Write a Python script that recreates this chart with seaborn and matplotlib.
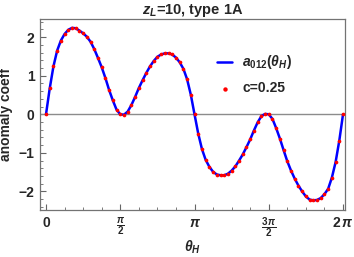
import numpy as np
import pandas as pd
import seaborn as sns
import matplotlib.pyplot as plt
from matplotlib.ticker import MultipleLocator

# sample points theta = k*pi/40, k = 0..80
k_index = list(range(81))
coeff = [
    0.00, 0.67, 1.24, 1.65, 1.91, 2.08, 2.19, 2.24, 2.23, 2.17,
    2.10, 2.01, 1.88, 1.69, 1.46, 1.22, 0.94, 0.63, 0.36, 0.12,
    0.00, -0.01, 0.07, 0.24, 0.45, 0.68, 0.88, 1.07, 1.24, 1.38,
    1.49, 1.55, 1.58, 1.58, 1.55, 1.47, 1.35, 1.18, 0.91, 0.51,
    0.00, -0.50, -0.90, -1.18, -1.36, -1.49, -1.56, -1.58, -1.58, -1.54,
    -1.46, -1.35, -1.20, -1.04, -0.85, -0.65, -0.42, -0.21, -0.05, 0.01,
    0.00, -0.12, -0.36, -0.63, -0.93, -1.22, -1.46, -1.67, -1.85, -2.00,
    -2.13, -2.21, -2.23, -2.22, -2.17, -2.07, -1.93, -1.64, -1.24, -0.68,
    0.00,
]
xtick_pos = [0, np.pi / 2, np.pi, 3 * np.pi / 2, 2 * np.pi]
xtick_labels = ['0', r'$\frac{\pi}{2}$', r'$\pi$', r'$\frac{3\,\pi}{2}$', r'$2\,\pi$']

df = pd.DataFrame({'theta': np.array(k_index) * np.pi / 40, 'a': coeff})

sns.set_style('ticks')
plt.rcParams['font.family'] = ['Liberation Sans', 'DejaVu Sans']
plt.rcParams['font.weight'] = 'bold'
plt.rcParams['mathtext.fontset'] = 'custom'
plt.rcParams['mathtext.rm'] = 'Liberation Sans:bold'
plt.rcParams['mathtext.it'] = 'Liberation Sans:bold:italic'
plt.rcParams['mathtext.bf'] = 'Liberation Sans:bold'

fig = plt.figure(figsize=(3.54, 2.57), dpi=100)
ax = fig.add_axes([40 / 354, 1 - 210 / 257, 305 / 354, 191 / 257])

ax.axhline(0, color='0.55', lw=1.0, zorder=1)
sns.lineplot(data=df, x='theta', y='a', color='blue', lw=1.8, ax=ax,
             label=r'$a_{012}(\theta_H)$', zorder=2)
sns.scatterplot(data=df, x='theta', y='a', color='red', s=7, linewidth=0,
                ax=ax, label='c=0.25', zorder=3)

ax.set_xlim(-0.127, 6.325)
ax.set_ylim(-2.48, 2.47)
ax.set_xticks(xtick_pos)
ax.set_xticklabels(xtick_labels)
ax.set_yticks([-2, -1, 0, 1, 2])
ax.yaxis.set_minor_locator(MultipleLocator(0.2))
ax.xaxis.set_minor_locator(MultipleLocator(np.pi / 8))
ax.tick_params(direction='in', length=4, width=0.8, color='0.4',
               labelsize=10, pad=4)
ax.tick_params(which='minor', direction='in', length=2, width=0.6, color='0.4')
for s in ax.spines.values():
    s.set_color('0.45')
    s.set_linewidth(0.9)

ax.set_xlabel(r'$\theta_H$', fontsize=10)
ax.xaxis.set_label_coords(0.5, -0.15)
ax.set_ylabel('anomaly coeff', fontsize=10, fontweight='bold')
ax.yaxis.set_label_coords(-0.088, 0.5)
ax.set_title(r'$z_L$=10, type 1A', fontsize=10.5, fontweight='bold', pad=3)

ax.legend(frameon=False, loc='upper left', bbox_to_anchor=(0.54, 0.885),
          fontsize=10, handlelength=1.1, handletextpad=0.7, labelspacing=0.7,
          markerscale=1.2)

fig.savefig('out.png', dpi=100)
